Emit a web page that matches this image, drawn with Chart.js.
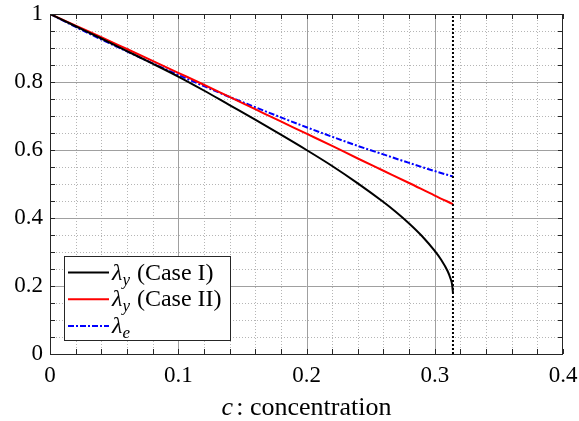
<!DOCTYPE html>
<html>
<head>
<meta charset="utf-8">
<script src="https://cdn.jsdelivr.net/npm/chart.js@4.4.0/dist/chart.umd.min.js"></script>
<style>
    html, body { margin: 0; padding: 0; background: #fff; }
    canvas { display: block; }
</style>
</head>
<body>
<canvas id="lambdaChart" width="579" height="421"></canvas>
<script>
// values
const cCaseI = [0, 0.02, 0.04, 0.06, 0.08, 0.10, 0.12, 0.14, 0.16, 0.18, 0.20, 0.22, 0.24, 0.26, 0.27, 0.28, 0.29, 0.30, 0.305, 0.31, 0.312, 0.3135, 0.3142];
const lambdaYCaseI = [1.000, 0.964, 0.928, 0.891, 0.854, 0.816, 0.775, 0.732, 0.689, 0.645, 0.600, 0.553, 0.502, 0.447, 0.417, 0.384, 0.347, 0.303, 0.277, 0.244, 0.225, 0.205, 0.180];

const cOther = [0, 0.02, 0.04, 0.06, 0.08, 0.10, 0.12, 0.14, 0.16, 0.18, 0.20, 0.22, 0.24, 0.26, 0.28, 0.30, 0.3142];
const lambdaYCaseII = [1.000, 0.966, 0.932, 0.897, 0.862, 0.827, 0.792, 0.756, 0.720, 0.684, 0.648, 0.612, 0.575, 0.539, 0.503, 0.466, 0.441];
const lambdaE = [1.000, 0.962, 0.925, 0.890, 0.855, 0.821, 0.788, 0.756, 0.726, 0.696, 0.667, 0.639, 0.612, 0.587, 0.562, 0.538, 0.522];

const cLimit = 0.3142;

const xTicks = [0, 0.1, 0.2, 0.3, 0.4];
const yTicks = [0, 0.2, 0.4, 0.6, 0.8, 1];

const legendItems = [
    { sub: 'y', rest: ' (Case I)', color: '#000000', dash: [] },
    { sub: 'y', rest: ' (Case II)', color: '#ff0000', dash: [] },
    { sub: 'e', rest: '', color: '#0000ff', dash: [6, 2, 2, 2] }
];

const FONT = '"Liberation Serif", "DejaVu Serif", serif';
const AXIS = '#262626';

function pts(xs, ys) {
    return xs.map((x, i) => ({ x: x, y: ys[i] }));
}

// grid, ticks, box, legend and axis title
const decor = {
    id: 'decor',
    beforeDatasetsDraw(chart) {
        const ctx = chart.ctx;
        const xs = chart.scales.x, ys = chart.scales.y;
        const a = chart.chartArea;
        ctx.save();
        // minor dotted grid
        ctx.strokeStyle = '#b5b5b5';
        ctx.lineWidth = 1;
        ctx.setLineDash([1, 2]);
        for (let i = 1; i < 20; i++) {
            if (i % 5 === 0) continue;
            const px = Math.round(xs.getPixelForValue(i * 0.02)) + 0.5;
            ctx.beginPath(); ctx.moveTo(px, a.top); ctx.lineTo(px, a.bottom); ctx.stroke();
        }
        for (let i = 1; i < 20; i++) {
            if (i % 4 === 0) continue;
            const py = Math.round(ys.getPixelForValue(i * 0.05)) + 0.5;
            ctx.beginPath(); ctx.moveTo(a.left, py); ctx.lineTo(a.right, py); ctx.stroke();
        }
        // major grid
        ctx.setLineDash([]);
        ctx.strokeStyle = '#a0a0a0';
        xTicks.slice(1, -1).forEach(v => {
            const px = Math.round(xs.getPixelForValue(v)) + 0.5;
            ctx.beginPath(); ctx.moveTo(px, a.top); ctx.lineTo(px, a.bottom); ctx.stroke();
        });
        yTicks.slice(1, -1).forEach(v => {
            const py = Math.round(ys.getPixelForValue(v)) + 0.5;
            ctx.beginPath(); ctx.moveTo(a.left, py); ctx.lineTo(a.right, py); ctx.stroke();
        });
        ctx.restore();
    },
    afterDatasetsDraw(chart) {
        const ctx = chart.ctx;
        const xs = chart.scales.x, ys = chart.scales.y;
        const a = chart.chartArea;
        ctx.save();
        // box
        ctx.strokeStyle = AXIS;
        ctx.lineWidth = 1;
        ctx.strokeRect(a.left + 0.5, a.top + 0.5, a.right - a.left - 1, a.bottom - a.top);
        // inward ticks on all four sides
        const tl = 5;
        for (let i = 0; i <= 20; i++) {
            const px = Math.round(xs.getPixelForValue(i * 0.02)) + 0.5;
            ctx.beginPath();
            ctx.moveTo(px, a.bottom); ctx.lineTo(px, a.bottom - tl);
            ctx.moveTo(px, a.top); ctx.lineTo(px, a.top + tl);
            ctx.stroke();
        }
        for (let i = 0; i <= 20; i++) {
            const py = Math.round(ys.getPixelForValue(i * 0.05)) + 0.5;
            ctx.beginPath();
            ctx.moveTo(a.left, py); ctx.lineTo(a.left + tl, py);
            ctx.moveTo(a.right, py); ctx.lineTo(a.right - tl, py);
            ctx.stroke();
        }

        // legend
        const bx = 64.5, by = 256.5, bw = 166, bh = 84;
        ctx.fillStyle = '#ffffff';
        ctx.fillRect(bx, by, bw, bh);
        ctx.strokeStyle = AXIS;
        ctx.strokeRect(bx, by, bw, bh);
        legendItems.forEach((it, i) => {
            const ry = 272.5 + i * 26.7;
            ctx.strokeStyle = it.color;
            ctx.lineWidth = 2;
            ctx.setLineDash(it.dash);
            ctx.beginPath(); ctx.moveTo(68, ry); ctx.lineTo(109, ry); ctx.stroke();
            ctx.setLineDash([]);
            ctx.fillStyle = '#000';
            ctx.textBaseline = 'alphabetic';
            ctx.textAlign = 'left';
            let tx = 112;
            const base = ry + 7;
            ctx.font = 'italic 24px ' + FONT;
            ctx.fillText('λ', tx, base);
            tx += ctx.measureText('λ').width;
            ctx.font = 'italic 17px ' + FONT;
            ctx.fillText(it.sub, tx, base + 5);
            tx += ctx.measureText(it.sub).width + 1;
            ctx.font = '24px ' + FONT;
            ctx.fillText(it.rest, tx, base);
        });

        // x axis title
        const t1 = 'c', t2 = ': concentration';
        ctx.font = 'italic 26px ' + FONT;
        const w1 = ctx.measureText(t1).width + 3;
        ctx.font = '26px ' + FONT;
        const w2 = ctx.measureText(t2).width;
        let sx = (a.left + a.right) / 2 - (w1 + w2) / 2;
        ctx.fillStyle = '#000';
        ctx.font = 'italic 26px ' + FONT;
        ctx.fillText(t1, sx, 415);
        ctx.font = '26px ' + FONT;
        ctx.fillText(t2, sx + w1, 415);
        ctx.restore();
    }
};

new Chart(document.getElementById('lambdaChart'), {
    type: 'scatter',
    data: {
        datasets: [
            {
                label: 'limit',
                data: [{ x: cLimit, y: 0 }, { x: cLimit, y: 1 }],
                borderColor: '#000000',
                borderWidth: 2,
                borderDash: [2, 2],
                showLine: true,
                pointRadius: 0
            },
            {
                label: 'λy (Case I)',
                data: pts(cCaseI, lambdaYCaseI),
                borderColor: '#000000',
                borderWidth: 2,
                showLine: true,
                pointRadius: 0,
                cubicInterpolationMode: 'monotone'
            },
            {
                label: 'λy (Case II)',
                data: pts(cOther, lambdaYCaseII),
                borderColor: '#ff0000',
                borderWidth: 2,
                showLine: true,
                pointRadius: 0,
                cubicInterpolationMode: 'monotone'
            },
            {
                label: 'λe',
                data: pts(cOther, lambdaE),
                borderColor: '#0000ff',
                borderWidth: 2,
                borderDash: [6, 2, 2, 2],
                showLine: true,
                pointRadius: 0,
                cubicInterpolationMode: 'monotone'
            }
        ]
    },
    options: {
        responsive: false,
        animation: false,
        devicePixelRatio: 1,
        layout: { padding: { left: 0, top: 14, right: 16, bottom: 0 } },
        plugins: {
            legend: { display: false },
            tooltip: { enabled: false }
        },
        scales: {
            x: {
                type: 'linear',
                min: 0,
                max: 0.4,
                afterBuildTicks: (s) => { s.ticks = xTicks.map(v => ({ value: v })); },
                afterFit: (s) => { s.height = 67; s.paddingLeft = 0; s.paddingRight = 0; },
                grid: { display: false, drawTicks: false },
                border: { display: false },
                ticks: {
                    padding: 8,
                    color: '#000',
                    font: { family: FONT, size: 23 },
                    callback: (v) => String(v)
                }
            },
            y: {
                type: 'linear',
                min: 0,
                max: 1,
                afterBuildTicks: (s) => { s.ticks = yTicks.map(v => ({ value: v })); },
                afterFit: (s) => { s.width = 50; s.paddingTop = 0; s.paddingBottom = 0; },
                grid: { display: false, drawTicks: false },
                border: { display: false },
                ticks: {
                    padding: 7,
                    color: '#000',
                    font: { family: FONT, size: 23 },
                    callback: (v) => String(v)
                }
            }
        }
    },
    plugins: [decor]
});
</script>
</body>
</html>
